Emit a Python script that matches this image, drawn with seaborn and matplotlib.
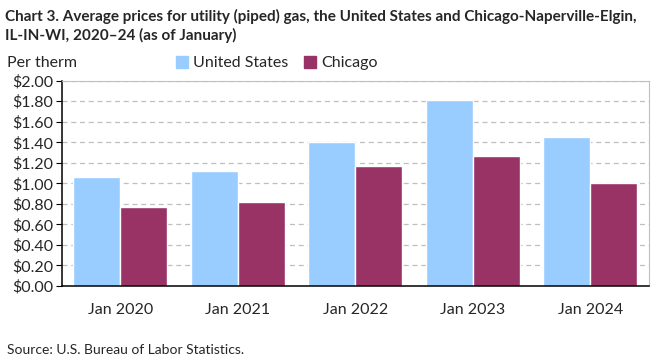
import pandas as pd
import matplotlib
matplotlib.use('Agg')
import matplotlib.pyplot as plt
import seaborn as sns
from matplotlib.patches import Patch

# data (dollars per therm, January of each year)
years = ['Jan 2020', 'Jan 2021', 'Jan 2022', 'Jan 2023', 'Jan 2024']
us_prices = [1.06, 1.12, 1.40, 1.81, 1.45]
chicago_prices = [0.77, 0.82, 1.17, 1.27, 1.00]
series_names = ['United States', 'Chicago']
colors = ['#99CCFF', '#993366']

df = pd.DataFrame({
    'Year': years * 2,
    'Price': us_prices + chicago_prices,
    'Area': [series_names[0]] * len(years) + [series_names[1]] * len(years),
})

sns.set_style('white')
plt.rcParams['font.family'] = ['Lato', 'DejaVu Sans']

fig = plt.figure(figsize=(6.61, 3.61), dpi=100)
ax = fig.add_axes([0.0933, 0.2078, 0.8885, 0.5687])

sns.barplot(data=df, x='Year', y='Price', hue='Area', palette=colors,
            width=0.8, saturation=1, ax=ax, legend=False)

ax.set_ylim(0, 2.0)
ax.set_yticks([i * 0.2 for i in range(11)])
ax.set_yticklabels(['${:.2f}'.format(i * 0.2) for i in range(11)], fontsize=11.5)
ax.tick_params(axis='y', length=4, width=0.8, color='black', pad=2, left=True)
ax.tick_params(axis='x', length=0, pad=12, labelsize=11.5)
ax.set_xlabel('')
ax.set_ylabel('')
ax.set_xlim(-0.5, 4.5)

ax.yaxis.grid(True, linestyle=(0, (4, 3)), color='#BFBFBF', linewidth=0.9)
ax.set_axisbelow(True)
for side in ['top', 'right']:
    ax.spines[side].set_color('#BFBFBF')
for side in ['left', 'bottom']:
    ax.spines[side].set_color('black')
    ax.spines[side].set_linewidth(1.1)

handles = [Patch(color=c, label=n) for c, n in zip(colors, series_names)]
fig.legend(handles=handles, loc='center', bbox_to_anchor=(0.419, 0.825), ncol=2,
           frameon=False, fontsize=11.5, handlelength=0.75, handleheight=0.75,
           handletextpad=0.3, columnspacing=1.0)

fig.text(0.008, 0.975, 'Chart 3. Average prices for utility (piped) gas, the United States and Chicago-Naperville-Elgin,\nIL-IN-WI, 2020\u201324 (as of January)',
         fontsize=11, fontweight='bold', va='top', ha='left', linespacing=1.35)
fig.text(0.01, 0.825, 'Per therm', fontsize=11.5, va='center', ha='left')
fig.text(0.01, 0.03, 'Source: U.S. Bureau of Labor Statistics.', fontsize=10, va='center', ha='left')

fig.savefig('out.png', dpi=100)
